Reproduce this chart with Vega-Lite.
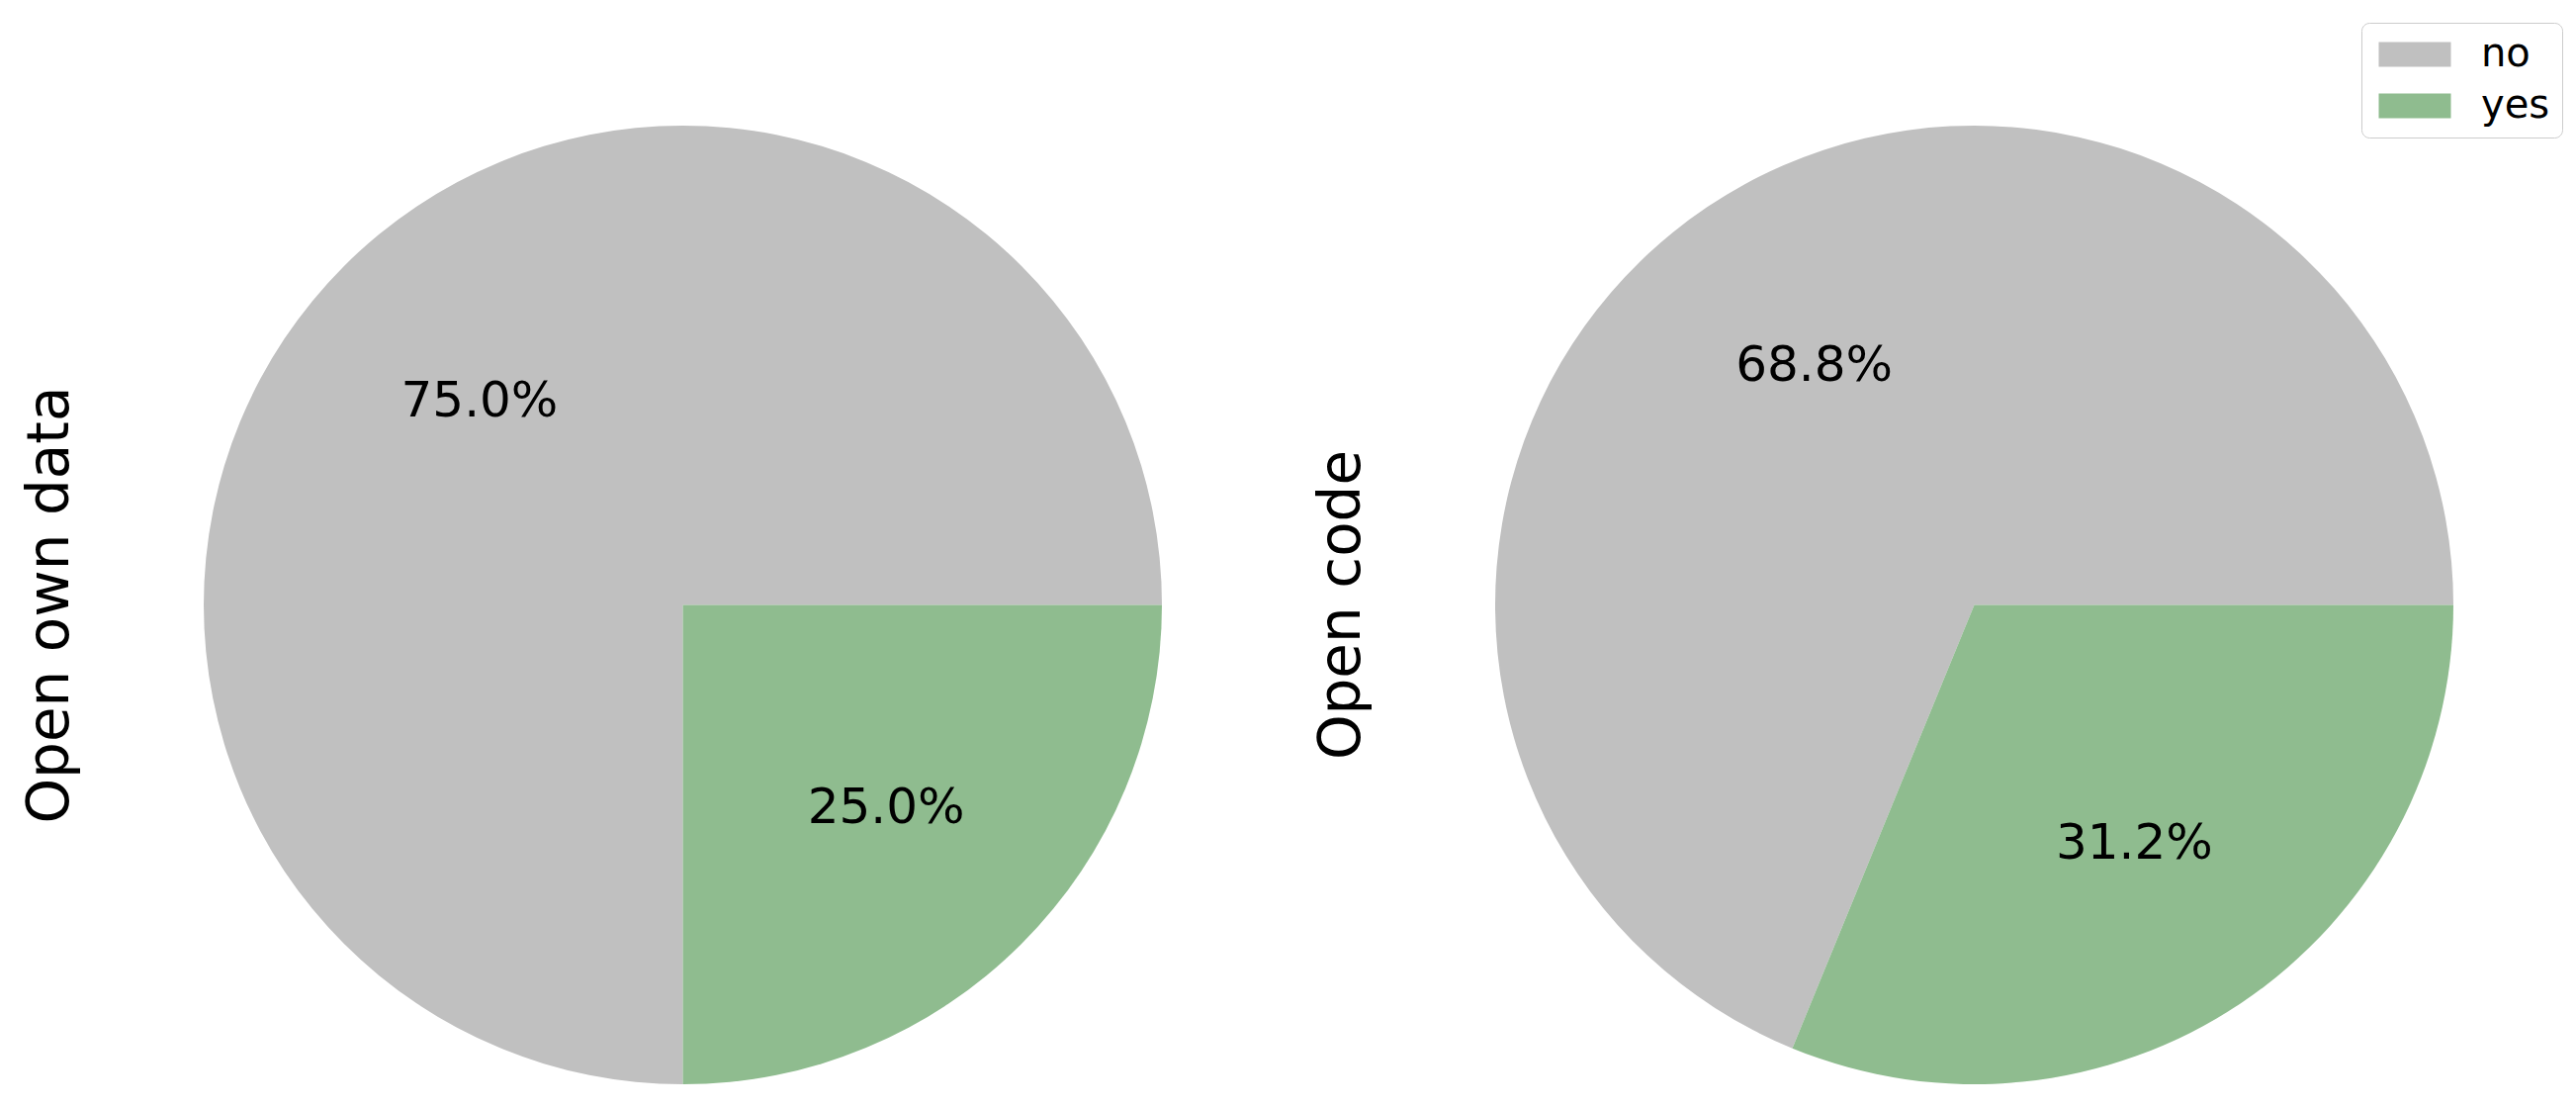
{
  "$schema": "https://vega.github.io/schema/vega-lite/v6.json",
  "autosize": {"type": "pad"},
  "padding": {"left": 22, "top": 22, "right": 0, "bottom": 0},
  "background": "white",
  "data": {
    "values": [
      {"question": "Open own data", "answer": "no", "share": 0.75},
      {"question": "Open own data", "answer": "yes", "share": 0.25},
      {"question": "Open code", "answer": "no", "share": 0.688},
      {"question": "Open code", "answer": "yes", "share": 0.312}
    ]
  },
  "bounds": "flush",
  "spacing": 337,
  "hconcat": [
    {
      "width": 969,
      "height": 969,
      "title": {"text": "Open own data", "orient": "left", "offset": 125},
      "transform": [{"filter": "datum.question === 'Open own data'"}],
      "layer": [
        {
          "mark": {"type": "arc"},
          "encoding": {
            "theta": {"field": "share", "type": "quantitative", "stack": true, "scale": {"range": [1.5707963, 7.8539816]}},
            "color": {"field": "answer", "type": "nominal", "scale": {"domain": ["no", "yes"], "range": ["#c0c0c0", "#8fbc8f"]}, "legend": {"title": null}},
            "order": {"field": "answer", "sort": "descending"}
          }
        },
        {
          "mark": {"type": "text", "radius": 290.7, "fontSize": 50, "color": "black"},
          "encoding": {
            "theta": {"field": "share", "type": "quantitative", "stack": true},
            "detail": {"field": "answer", "type": "nominal"},
            "order": {"field": "answer", "sort": "descending"},
            "text": {"field": "share", "type": "quantitative", "format": ".1%"}
          }
        }
      ]
    },
    {
      "width": 969,
      "height": 969,
      "title": {"text": "Open code", "orient": "left", "offset": 125},
      "transform": [{"filter": "datum.question === 'Open code'"}],
      "layer": [
        {
          "mark": {"type": "arc"},
          "encoding": {
            "theta": {"field": "share", "type": "quantitative", "stack": true, "scale": {"range": [1.5707963, 7.8539816]}},
            "color": {"field": "answer", "type": "nominal", "scale": {"domain": ["no", "yes"], "range": ["#c0c0c0", "#8fbc8f"]}, "legend": {"title": null}},
            "order": {"field": "answer", "sort": "descending"}
          }
        },
        {
          "mark": {"type": "text", "radius": 290.7, "fontSize": 50, "color": "black"},
          "encoding": {
            "theta": {"field": "share", "type": "quantitative", "stack": true},
            "detail": {"field": "answer", "type": "nominal"},
            "order": {"field": "answer", "sort": "descending"},
            "text": {"field": "share", "type": "quantitative", "format": ".1%"}
          }
        }
      ]
    }
  ],
  "config": {
    "font": "DejaVu Sans",
    "view": {"stroke": null},
    "title": {"fontSize": 58, "fontWeight": "normal", "color": "black", "font": "DejaVu Sans"},
    "legend": {
      "orient": "none",
      "legendX": 2182,
      "legendY": -104,
      "strokeColor": "#cccccc",
      "cornerRadius": 8,
      "padding": 12,
      "fillColor": "white",
      "symbolType": "M-1.16,-1H4.68V1H-1.16Z",
      "symbolSize": 625,
      "symbolStrokeWidth": 0,
      "symbolOpacity": 1,
      "labelFontSize": 40,
      "labelFont": "DejaVu Sans",
      "labelColor": "black",
      "labelOffset": 69,
      "rowPadding": 12
    }
  }
}
